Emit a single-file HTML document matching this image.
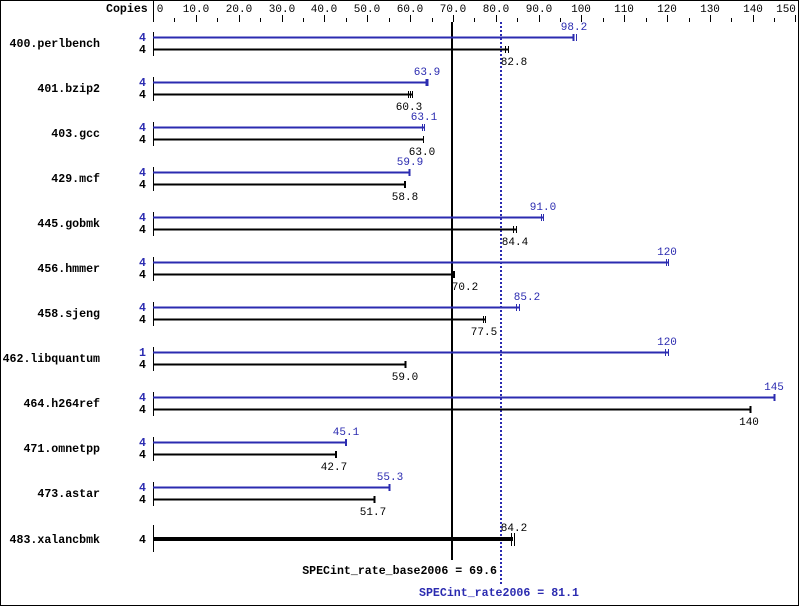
<!DOCTYPE html>
<html><head><meta charset="utf-8"><style>
html,body{margin:0;padding:0;background:#fff}
svg{display:block}
text{font-family:"Liberation Mono","DejaVu Sans Mono",monospace;font-size:11px}
.b{font-weight:bold;font-size:11.6px}
.bl{fill:#2b2bb0}
</style></head><body>
<svg width="799" height="606" viewBox="0 0 799 606" xmlns="http://www.w3.org/2000/svg">
<rect x="0.5" y="0.5" width="798" height="605" fill="#fff" stroke="#000"/>
<text x="106" y="12" class="b">Copies</text>
<line x1="153.5" y1="0" x2="153.5" y2="22" stroke="#000"/>
<g stroke="#000" stroke-width="1">
<line x1="196.5" y1="15" x2="196.5" y2="22"/><line x1="239.5" y1="15" x2="239.5" y2="22"/><line x1="282.5" y1="15" x2="282.5" y2="22"/><line x1="324.5" y1="15" x2="324.5" y2="22"/><line x1="367.5" y1="15" x2="367.5" y2="22"/><line x1="410.5" y1="15" x2="410.5" y2="22"/><line x1="453.5" y1="15" x2="453.5" y2="22"/><line x1="496.5" y1="15" x2="496.5" y2="22"/><line x1="539.5" y1="15" x2="539.5" y2="22"/><line x1="581.5" y1="15" x2="581.5" y2="22"/><line x1="624.5" y1="15" x2="624.5" y2="22"/><line x1="667.5" y1="15" x2="667.5" y2="22"/><line x1="710.5" y1="15" x2="710.5" y2="22"/><line x1="753.5" y1="15" x2="753.5" y2="22"/><line x1="795.5" y1="15" x2="795.5" y2="22"/>
<line x1="174.5" y1="18" x2="174.5" y2="22"/><line x1="217.5" y1="18" x2="217.5" y2="22"/><line x1="260.5" y1="18" x2="260.5" y2="22"/><line x1="303.5" y1="18" x2="303.5" y2="22"/><line x1="346.5" y1="18" x2="346.5" y2="22"/><line x1="389.5" y1="18" x2="389.5" y2="22"/><line x1="432.5" y1="18" x2="432.5" y2="22"/><line x1="474.5" y1="18" x2="474.5" y2="22"/><line x1="517.5" y1="18" x2="517.5" y2="22"/><line x1="560.5" y1="18" x2="560.5" y2="22"/><line x1="603.5" y1="18" x2="603.5" y2="22"/><line x1="646.5" y1="18" x2="646.5" y2="22"/><line x1="689.5" y1="18" x2="689.5" y2="22"/><line x1="731.5" y1="18" x2="731.5" y2="22"/><line x1="774.5" y1="18" x2="774.5" y2="22"/>
</g>
<g text-anchor="middle">
<text x="160" y="12">0</text><text x="196" y="12">10.0</text><text x="239" y="12">20.0</text><text x="282" y="12">30.0</text><text x="324" y="12">40.0</text><text x="367" y="12">50.0</text><text x="410" y="12">60.0</text><text x="453" y="12">70.0</text><text x="496" y="12">80.0</text><text x="539" y="12">90.0</text><text x="581" y="12">100</text><text x="624" y="12">110</text><text x="667" y="12">120</text><text x="710" y="12">130</text><text x="753" y="12">140</text><text x="786" y="12">150</text>
</g>

<line x1="452" y1="22" x2="452" y2="560" stroke="#000" stroke-width="2"/>
<line x1="501" y1="22" x2="501" y2="585" stroke="#2b2bb0" stroke-width="2" stroke-dasharray="2,2"/>

<g transform="translate(0,0)">
<text x="100" y="47" text-anchor="end" class="b">400.perlbench</text>
<text x="139" y="41" class="b bl">4</text><text x="139" y="53" class="b">4</text>
<line x1="153.5" y1="32" x2="153.5" y2="56" stroke="#000"/>
<line x1="153" y1="37.5" x2="574" y2="37.5" stroke="#2b2bb0" stroke-width="2"/><line x1="573.5" y1="34" x2="573.5" y2="41" stroke="#2b2bb0" stroke-width="2"/><line x1="576.5" y1="34" x2="576.5" y2="41" stroke="#2b2bb0"/>
<text x="574" y="30" text-anchor="middle" class="bl">98.2</text>
<line x1="153" y1="49.5" x2="508" y2="49.5" stroke="#000" stroke-width="2"/><line x1="505.5" y1="46" x2="505.5" y2="53" stroke="#000"/><line x1="508.5" y1="46" x2="508.5" y2="53" stroke="#000"/>
<text x="514" y="65" text-anchor="middle">82.8</text>
</g>
<g transform="translate(0,45)">
<text x="100" y="47" text-anchor="end" class="b">401.bzip2</text>
<text x="139" y="41" class="b bl">4</text><text x="139" y="53" class="b">4</text>
<line x1="153.5" y1="32" x2="153.5" y2="56" stroke="#000"/>
<line x1="153" y1="37.5" x2="427" y2="37.5" stroke="#2b2bb0" stroke-width="2"/><line x1="427" y1="34" x2="427" y2="41" stroke="#2b2bb0" stroke-width="3"/>
<text x="427" y="30" text-anchor="middle" class="bl">63.9</text>
<line x1="153" y1="49.5" x2="412" y2="49.5" stroke="#000" stroke-width="2"/><line x1="408.5" y1="46" x2="408.5" y2="53" stroke="#000"/><line x1="410.5" y1="46" x2="410.5" y2="53" stroke="#000"/><line x1="412.5" y1="46" x2="412.5" y2="53" stroke="#000"/>
<text x="409" y="65" text-anchor="middle">60.3</text>
</g>
<g transform="translate(0,90)">
<text x="100" y="47" text-anchor="end" class="b">403.gcc</text>
<text x="139" y="41" class="b bl">4</text><text x="139" y="53" class="b">4</text>
<line x1="153.5" y1="32" x2="153.5" y2="56" stroke="#000"/>
<line x1="153" y1="37.5" x2="424" y2="37.5" stroke="#2b2bb0" stroke-width="2"/><line x1="422.5" y1="34" x2="422.5" y2="41" stroke="#2b2bb0"/><line x1="424.5" y1="34" x2="424.5" y2="41" stroke="#2b2bb0"/>
<text x="424" y="30" text-anchor="middle" class="bl">63.1</text>
<line x1="153" y1="49.5" x2="423" y2="49.5" stroke="#000" stroke-width="2"/><line x1="423.5" y1="46" x2="423.5" y2="53" stroke="#000"/>
<text x="422" y="65" text-anchor="middle">63.0</text>
</g>
<g transform="translate(0,135)">
<text x="100" y="47" text-anchor="end" class="b">429.mcf</text>
<text x="139" y="41" class="b bl">4</text><text x="139" y="53" class="b">4</text>
<line x1="153.5" y1="32" x2="153.5" y2="56" stroke="#000"/>
<line x1="153" y1="37.5" x2="410" y2="37.5" stroke="#2b2bb0" stroke-width="2"/><line x1="409.5" y1="34" x2="409.5" y2="41" stroke="#2b2bb0" stroke-width="2"/>
<text x="410" y="30" text-anchor="middle" class="bl">59.9</text>
<line x1="153" y1="49.5" x2="405" y2="49.5" stroke="#000" stroke-width="2"/><line x1="405" y1="46" x2="405" y2="53" stroke="#000" stroke-width="2"/>
<text x="405" y="65" text-anchor="middle">58.8</text>
</g>
<g transform="translate(0,180)">
<text x="100" y="47" text-anchor="end" class="b">445.gobmk</text>
<text x="139" y="41" class="b bl">4</text><text x="139" y="53" class="b">4</text>
<line x1="153.5" y1="32" x2="153.5" y2="56" stroke="#000"/>
<line x1="153" y1="37.5" x2="543" y2="37.5" stroke="#2b2bb0" stroke-width="2"/><line x1="541.5" y1="34" x2="541.5" y2="41" stroke="#2b2bb0"/><line x1="543.5" y1="34" x2="543.5" y2="41" stroke="#2b2bb0"/>
<text x="543" y="30" text-anchor="middle" class="bl">91.0</text>
<line x1="153" y1="49.5" x2="517" y2="49.5" stroke="#000" stroke-width="2"/><line x1="513.5" y1="46" x2="513.5" y2="53" stroke="#000"/><line x1="516.5" y1="46" x2="516.5" y2="53" stroke="#000"/>
<text x="515" y="65" text-anchor="middle">84.4</text>
</g>
<g transform="translate(0,225)">
<text x="100" y="47" text-anchor="end" class="b">456.hmmer</text>
<text x="139" y="41" class="b bl">4</text><text x="139" y="53" class="b">4</text>
<line x1="153.5" y1="32" x2="153.5" y2="56" stroke="#000"/>
<line x1="153" y1="37.5" x2="668" y2="37.5" stroke="#2b2bb0" stroke-width="2"/><line x1="666.5" y1="34" x2="666.5" y2="41" stroke="#2b2bb0"/><line x1="668.5" y1="34" x2="668.5" y2="41" stroke="#2b2bb0"/>
<text x="667" y="30" text-anchor="middle" class="bl">120</text>
<line x1="153" y1="49.5" x2="454" y2="49.5" stroke="#000" stroke-width="2"/><line x1="454" y1="46" x2="454" y2="53" stroke="#000" stroke-width="2"/>
<text x="465" y="65" text-anchor="middle">70.2</text>
</g>
<g transform="translate(0,270)">
<text x="100" y="47" text-anchor="end" class="b">458.sjeng</text>
<text x="139" y="41" class="b bl">4</text><text x="139" y="53" class="b">4</text>
<line x1="153.5" y1="32" x2="153.5" y2="56" stroke="#000"/>
<line x1="153" y1="37.5" x2="519" y2="37.5" stroke="#2b2bb0" stroke-width="2"/><line x1="516.5" y1="34" x2="516.5" y2="41" stroke="#2b2bb0"/><line x1="519.5" y1="34" x2="519.5" y2="41" stroke="#2b2bb0"/>
<text x="527" y="30" text-anchor="middle" class="bl">85.2</text>
<line x1="153" y1="49.5" x2="485" y2="49.5" stroke="#000" stroke-width="2"/><line x1="483.5" y1="46" x2="483.5" y2="53" stroke="#000"/><line x1="485.5" y1="46" x2="485.5" y2="53" stroke="#000"/>
<text x="484" y="65" text-anchor="middle">77.5</text>
</g>
<g transform="translate(0,315)">
<text x="100" y="47" text-anchor="end" class="b">462.libquantum</text>
<text x="139" y="41" class="b bl">1</text><text x="139" y="53" class="b">4</text>
<line x1="153.5" y1="32" x2="153.5" y2="56" stroke="#000"/>
<line x1="153" y1="37.5" x2="668" y2="37.5" stroke="#2b2bb0" stroke-width="2"/><line x1="665.5" y1="34" x2="665.5" y2="41" stroke="#2b2bb0"/><line x1="668.5" y1="34" x2="668.5" y2="41" stroke="#2b2bb0"/>
<text x="667" y="30" text-anchor="middle" class="bl">120</text>
<line x1="153" y1="49.5" x2="406" y2="49.5" stroke="#000" stroke-width="2"/><line x1="405.5" y1="46" x2="405.5" y2="53" stroke="#000" stroke-width="2"/>
<text x="405" y="65" text-anchor="middle">59.0</text>
</g>
<g transform="translate(0,360)">
<text x="100" y="47" text-anchor="end" class="b">464.h264ref</text>
<text x="139" y="41" class="b bl">4</text><text x="139" y="53" class="b">4</text>
<line x1="153.5" y1="32" x2="153.5" y2="56" stroke="#000"/>
<line x1="153" y1="37.5" x2="775" y2="37.5" stroke="#2b2bb0" stroke-width="2"/><line x1="774.5" y1="34" x2="774.5" y2="41" stroke="#2b2bb0" stroke-width="2"/>
<text x="774" y="30" text-anchor="middle" class="bl">145</text>
<line x1="153" y1="49.5" x2="751" y2="49.5" stroke="#000" stroke-width="2"/><line x1="750.5" y1="46" x2="750.5" y2="53" stroke="#000" stroke-width="2"/>
<text x="749" y="65" text-anchor="middle">140</text>
</g>
<g transform="translate(0,405)">
<text x="100" y="47" text-anchor="end" class="b">471.omnetpp</text>
<text x="139" y="41" class="b bl">4</text><text x="139" y="53" class="b">4</text>
<line x1="153.5" y1="32" x2="153.5" y2="56" stroke="#000"/>
<line x1="153" y1="37.5" x2="347" y2="37.5" stroke="#2b2bb0" stroke-width="2"/><line x1="346" y1="34" x2="346" y2="41" stroke="#2b2bb0" stroke-width="2"/>
<text x="346" y="30" text-anchor="middle" class="bl">45.1</text>
<line x1="153" y1="49.5" x2="336" y2="49.5" stroke="#000" stroke-width="2"/><line x1="336" y1="46" x2="336" y2="53" stroke="#000" stroke-width="2"/>
<text x="334" y="65" text-anchor="middle">42.7</text>
</g>
<g transform="translate(0,450)">
<text x="100" y="47" text-anchor="end" class="b">473.astar</text>
<text x="139" y="41" class="b bl">4</text><text x="139" y="53" class="b">4</text>
<line x1="153.5" y1="32" x2="153.5" y2="56" stroke="#000"/>
<line x1="153" y1="37.5" x2="390" y2="37.5" stroke="#2b2bb0" stroke-width="2"/><line x1="389.5" y1="34" x2="389.5" y2="41" stroke="#2b2bb0" stroke-width="2"/>
<text x="390" y="30" text-anchor="middle" class="bl">55.3</text>
<line x1="153" y1="49.5" x2="375" y2="49.5" stroke="#000" stroke-width="2"/><line x1="374.5" y1="46" x2="374.5" y2="53" stroke="#000" stroke-width="2"/>
<text x="373" y="65" text-anchor="middle">51.7</text>
</g>
<g>
<text x="100" y="543" text-anchor="end" class="b">483.xalancbmk</text>
<text x="139" y="543" class="b">4</text>
<line x1="153.5" y1="525" x2="153.5" y2="552" stroke="#000"/>
<line x1="153" y1="539" x2="513" y2="539" stroke="#000" stroke-width="4"/><line x1="511.5" y1="533" x2="511.5" y2="546" stroke="#000"/><line x1="514.5" y1="533" x2="514.5" y2="546" stroke="#000"/>
<text x="514" y="531" text-anchor="middle">84.2</text>
</g>

<text x="497" y="574" text-anchor="end" class="b">SPECint_rate_base2006 = 69.6</text>
<text x="419" y="596" class="b bl">SPECint_rate2006 = 81.1</text>
</svg>
</body></html>
